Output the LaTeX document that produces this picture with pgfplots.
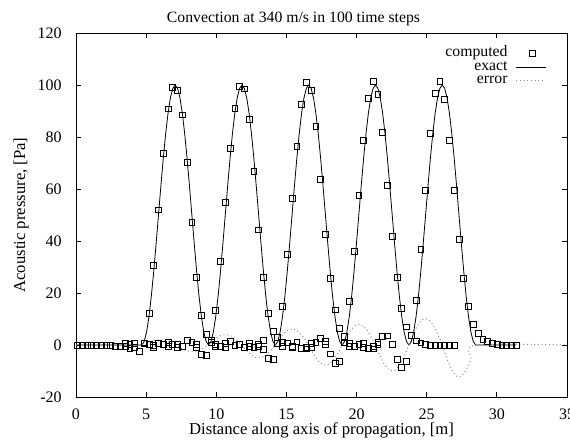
\documentclass[border=0pt]{standalone}
\usepackage{fontspec}
\setmainfont{Liberation Serif}
\usepackage{pgfplots}
\pgfplotsset{compat=1.18}
\pgfplotsset{
  mylineleg/.style={legend image code/.code={\draw[##1] (0pt,0pt) -- (22pt,0pt);}},
  mymarkleg/.style={legend image code/.code={\draw[mark repeat=2, mark phase=2, ##1] plot coordinates {(0pt,0pt) (12pt,0pt) (22pt,0pt)};}},
}
\begin{document}
\fontsize{12}{14}\selectfont
\begin{tikzpicture}
\begin{axis}[
  scale only axis, width=368.25pt, height=273pt,
  xmin=0, xmax=35, ymin=-20, ymax=120,
  xtick={0,5,...,35}, ytick={-20,0,...,120},
  tick align=inside, major tick length=4pt,
  axis line style={line width=0.7pt},
  every tick/.style={black, line width=0.6pt},
  /pgf/number format/assume math mode=true,
  tick label style={font=\fontsize{12}{14}\selectfont},
  xticklabel style={yshift=-4.5pt},
  yticklabel style={xshift=-6.5pt},
  xlabel={Distance along axis of propagation, [m]},
  ylabel={Acoustic pressure, [Pa]},
  xlabel style={at={(axis description cs:0.5,-0.093)}, anchor=center, font=\fontsize{12.5}{14}\selectfont},
  ylabel style={at={(axis description cs:-0.112,0.5)}, anchor=center, font=\fontsize{12.5}{14}\selectfont},
  title={Convection at 340 m/s in 100 time steps},
  title style={at={(axis description cs:0.443,1.045)}, anchor=center, yshift=-7.5pt, font=\fontsize{11.8}{14}\selectfont},
  legend style={draw=none, fill=none, at={(axis description cs:0.958,0.962)}, anchor=north east,
    font=\fontsize{11.8}{13}\selectfont, row sep=0pt, column sep=6pt, inner sep=0pt,
    nodes={inner sep=0.2pt, text height=7pt, text depth=2.6pt}},
  legend cell align=right, legend plot pos=right,
]
\coordinate (SW) at (rel axis cs:0,0);
\coordinate (NE) at (rel axis cs:1,1);
% computed (main snapshot values)
\addplot[only marks, mark=square, mark size=2.2pt, mark options={black, line width=0.55pt}, mymarkleg]
coordinates {
(0.10,0) (0.44,0) (0.78,0) (1.12,0) (1.46,0) (1.80,0) (2.14,0) (2.48,0) (2.82,-0.4) (3.16,-0.6)
(3.50,0.7) (3.84,0.4) (4.18,-1.0) (4.52,-2.6)
(4.86,0.8) (5.20,12.3) (5.54,30.5) (5.88,52) (6.22,73.6) (6.56,90.8) (6.90,99.1) (7.24,97.8) (7.58,88.5) (7.92,70.1) (8.26,47.2) (8.60,25.9) (8.94,11.4) (9.28,4.2)
(9.62,2) (9.96,13.2) (10.30,32.2) (10.64,54.7) (10.98,75.5) (11.32,91) (11.66,99.6) (12.00,98.5) (12.34,86.9) (12.68,66.9) (13.02,44.3) (13.36,25.9) (13.70,12.2) (14.04,5.1)
(14.38,3) (14.72,14.8) (15.06,34.7) (15.40,56.3) (15.74,76.5) (16.08,92.7) (16.42,100.9) (16.76,98) (17.10,84.2) (17.44,63.8) (17.78,42.7) (18.12,25.7) (18.46,13.5) (18.80,6.4)
(19.14,3.2) (19.48,16.7) (19.82,35.9) (20.16,57.4) (20.50,78.8) (20.84,94.9) (21.18,101.3) (21.52,96.5) (21.86,81.7) (22.20,61.5) (22.54,41.7) (22.88,25.9) (23.22,14) (23.56,7)
(23.90,3.8) (24.24,17.3) (24.58,36.9) (24.92,59.6) (25.26,81.4) (25.60,96.8) (25.94,101.3) (26.28,94.6) (26.62,78.8) (26.96,59.6) (27.30,40.6) (27.64,25.5) (27.98,14.7) (28.32,8.1)
(28.66,4.4) (29.00,2.3) (29.34,1.4) (29.68,0.6) (30.02,0.2) (30.36,0) (30.70,0) (31.04,0) (31.38,0)
};
\addlegendentry{computed}
% computed (other snapshots, behind the pulses)
\addplot[only marks, mark=square, mark size=2.2pt, mark options={black, line width=0.55pt}, forget plot]
coordinates {
(3.50,-0.5) (3.84,-1.2) (4.18,0.5)
(4.86,0.5) (5.20,0.3) (5.54,-0.3) (5.88,0.6) (6.22,0.2) (6.56,-0.5) (6.90,0.3) (7.24,-0.8) (7.58,-0.6) (7.92,1.8) (8.26,0.9) (8.60,-0.8) (8.94,-3.6) (9.28,-4.0)
(5.54,-0.9) (6.56,0.9) (7.24,0.4) (8.60,0.4)
(9.62,0.9) (9.96,0.2) (10.30,-0.4) (10.64,0.5) (10.98,1.5) (11.32,-0.3) (11.66,0.4) (12.00,-0.9) (12.34,0.6) (12.68,-1.0) (13.02,0.3) (13.36,1.9) (13.70,-5.0) (14.04,-5.5)
(9.96,-0.6) (10.64,-0.8) (12.34,-0.4) (13.02,-0.5) (13.36,-1.6)
(14.38,0.7) (14.72,-0.4) (15.06,0.8) (15.40,-0.6) (15.74,1.2) (16.08,-1.2) (16.42,-0.8) (16.76,0.5) (17.10,1.0) (17.44,2.7) (17.78,1.5) (18.12,-3.4) (18.46,-7.0) (18.80,-6.4)
(14.72,1.0) (15.40,-1.0) (16.42,-1.5) (16.76,-0.8) (17.78,0.3)
(19.14,0.8) (19.48,0.5) (19.82,-0.5) (20.16,0.3) (20.50,-0.9) (20.84,-1.2) (21.18,-0.6) (21.52,0.4) (21.86,3.3) (22.20,3.5) (22.54,0.2) (22.88,-5.5) (23.22,-8.7) (23.56,-6.2)
(19.48,-0.6) (20.50,0.6) (21.18,-1.5) (21.52,0.9)
(24.24,1.6) (24.58,0.8) (24.92,0.3) (25.26,0) (25.60,0) (25.94,0) (26.28,0) (26.62,0) (26.96,0)
};
% exact
\addplot[black, line width=0.6pt, mark=none, mylineleg]
coordinates {
(0,0) (4.69,0)
(4.86,1.3) (5.03,4.95) (5.20,10.9) (5.37,18.8) (5.54,28.3) (5.71,38.9) (5.88,50) (6.05,61.1) (6.22,71.7) (6.39,81.2) (6.56,89.1) (6.73,95.05) (6.90,98.7) (7.07,100)
(7.24,98.7) (7.41,95.05) (7.58,89.1) (7.75,81.2) (7.92,71.7) (8.09,61.1) (8.26,50) (8.43,38.9) (8.60,28.3) (8.77,18.8) (8.94,10.9) (9.11,4.95) (9.28,1.3) (9.45,0)
(9.62,1.3) (9.79,4.95) (9.96,10.9) (10.13,18.8) (10.30,28.3) (10.47,38.9) (10.64,50) (10.81,61.1) (10.98,71.7) (11.15,81.2) (11.32,89.1) (11.49,95.05) (11.66,98.7) (11.83,100)
(12.00,98.7) (12.17,95.05) (12.34,89.1) (12.51,81.2) (12.68,71.7) (12.85,61.1) (13.02,50) (13.19,38.9) (13.36,28.3) (13.53,18.8) (13.70,10.9) (13.87,4.95) (14.04,1.3) (14.21,0)
(14.38,1.3) (14.55,4.95) (14.72,10.9) (14.89,18.8) (15.06,28.3) (15.23,38.9) (15.40,50) (15.57,61.1) (15.74,71.7) (15.91,81.2) (16.08,89.1) (16.25,95.05) (16.42,98.7) (16.59,100)
(16.76,98.7) (16.93,95.05) (17.10,89.1) (17.27,81.2) (17.44,71.7) (17.61,61.1) (17.78,50) (17.95,38.9) (18.12,28.3) (18.29,18.8) (18.46,10.9) (18.63,4.95) (18.80,1.3) (18.97,0)
(19.14,1.3) (19.31,4.95) (19.48,10.9) (19.65,18.8) (19.82,28.3) (19.99,38.9) (20.16,50) (20.33,61.1) (20.50,71.7) (20.67,81.2) (20.84,89.1) (21.01,95.05) (21.18,98.7) (21.35,100)
(21.52,98.7) (21.69,95.05) (21.86,89.1) (22.03,81.2) (22.20,71.7) (22.37,61.1) (22.54,50) (22.71,38.9) (22.88,28.3) (23.05,18.8) (23.22,10.9) (23.39,4.95) (23.56,1.3) (23.73,0)
(23.90,1.3) (24.07,4.95) (24.24,10.9) (24.41,18.8) (24.58,28.3) (24.75,38.9) (24.92,50) (25.09,61.1) (25.26,71.7) (25.43,81.2) (25.60,89.1) (25.77,95.05) (25.94,98.7) (26.11,100)
(26.28,98.7) (26.45,95.05) (26.62,89.1) (26.79,81.2) (26.96,71.7) (27.13,61.1) (27.30,50) (27.47,38.9) (27.64,28.3) (27.81,18.8) (27.98,10.9) (28.15,4.95) (28.32,1.3) (28.49,0)
(31.38,0)
};
\addlegendentry{exact}
% error
\addplot[black!45, line width=0.75pt, dotted, mark=none, smooth, mylineleg]
coordinates {
(0,0) (4.69,0) (5.03,0.87) (5.37,1.56) (5.71,1.95) (6.05,1.95) (6.39,1.56) (6.73,0.87) (7.07,0)
(7.41,-1.08) (7.75,-1.95) (8.09,-2.44) (8.43,-2.44) (8.77,-1.95) (9.11,-1.08) (9.45,0)
(9.79,1.74) (10.13,3.13) (10.47,3.9) (10.81,3.9) (11.15,3.13) (11.49,1.74) (11.83,0)
(12.17,-2.17) (12.51,-3.91) (12.85,-4.87) (13.19,-4.87) (13.53,-3.91) (13.87,-2.17) (14.21,0)
(14.55,2.69) (14.89,4.85) (15.23,6.04) (15.57,6.04) (15.91,4.85) (16.25,2.69) (16.59,0)
(16.93,-3.38) (17.27,-6.10) (17.61,-7.60) (17.95,-7.60) (18.29,-6.10) (18.63,-3.38) (18.97,0)
(19.31,3.43) (19.65,6.18) (19.99,7.70) (20.33,7.70) (20.67,6.18) (21.01,3.43) (21.35,0)
(21.69,-4.34) (22.03,-7.82) (22.37,-9.75) (22.71,-9.75) (23.05,-7.82) (23.39,-4.34) (23.73,0)
(24.07,4.43) (24.41,7.97) (24.75,9.94) (25.09,9.94) (25.43,7.97) (25.77,4.43) (26.11,0)
(26.45,-5.34) (26.79,-9.62) (27.13,-11.99) (27.47,-11.99) (27.81,-9.62) (28.15,-5.34) (28.49,0)
(35,0)
};
\addlegendentry{error}
\end{axis}
\pgfresetboundingbox
\path[use as bounding box] ([shift={(-57pt,-32.25pt)}]SW) rectangle ([shift={(2.25pt,24.75pt)}]NE);
\end{tikzpicture}
\end{document}
